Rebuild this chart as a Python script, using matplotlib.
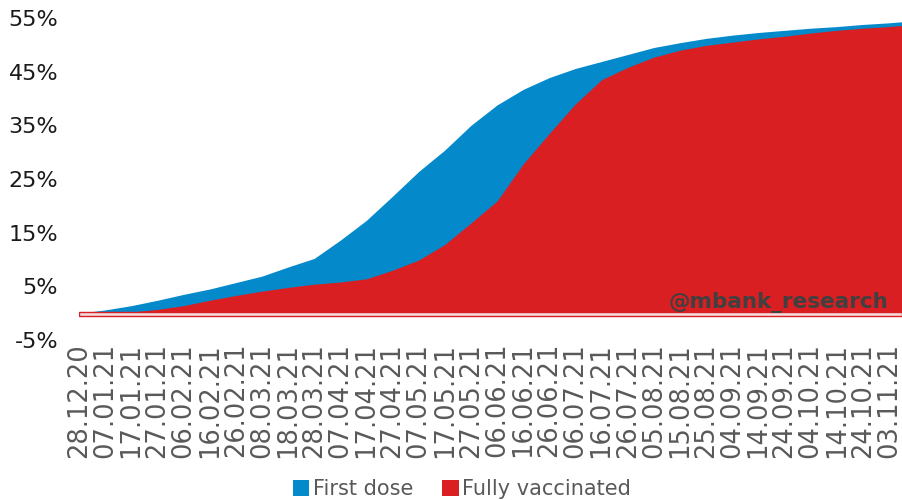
import matplotlib
matplotlib.use("Agg")
import matplotlib.pyplot as plt
import matplotlib.dates as mdates
from matplotlib.patches import Patch
import pandas as pd

# Share of population vaccinated (%), sampled every 10 days from 28.12.20, plus last day
dates = list(pd.date_range("2020-12-28", periods=32, freq="10D")) + [pd.Timestamp("2021-11-08")]
first_dose = [0.0, 0.6, 1.4, 2.4, 3.5, 4.5, 5.7, 6.9, 8.6, 10.2,
              13.6, 17.3, 21.8, 26.4, 30.4, 35.0, 38.8, 41.7, 43.9, 45.6,
              46.9, 48.2, 49.5, 50.4, 51.2, 51.8, 52.3, 52.7, 53.1, 53.4,
              53.8, 54.1, 54.3]
fully_vaccinated = [0.0, 0.0, 0.2, 0.7, 1.4, 2.4, 3.3, 4.1, 4.8, 5.4,
                    5.8, 6.4, 8.0, 9.9, 12.8, 16.8, 20.9, 27.8, 33.5, 39.0,
                    43.5, 45.8, 47.7, 49.0, 49.9, 50.5, 51.1, 51.6, 52.2, 52.7,
                    53.1, 53.4, 53.6]
tick_dates = pd.date_range("2020-12-28", "2021-11-03", freq="10D")
y_ticks = [-5, 5, 15, 25, 35, 45, 55]

BLUE = "#0489CB"
RED = "#D91F21"
GREY = "#595959"

fig = plt.figure(figsize=(9.02, 5.0), dpi=100)
ax = fig.add_axes([0.0876, 0.32, 0.9124, 0.644])

ax.fill_between(dates, 0, first_dose, color=BLUE, lw=0, zorder=2)
ax.fill_between(dates, 0, fully_vaccinated, color=RED, lw=0, zorder=3)

# thin outlined band along zero
ax.axhspan(-0.5, 0.3, facecolor="#f2dcdc", edgecolor=RED, lw=1.0, zorder=4)

ax.set_xlim(dates[0], dates[-1])
ax.set_ylim(-5, 55)
ax.set_yticks(y_ticks)
ax.set_yticklabels([f"{v}%" for v in y_ticks], fontsize=16, color="#1a1a1a")
ax.set_xticks(tick_dates)
ax.xaxis.set_major_formatter(mdates.DateFormatter("%d.%m.%y"))
plt.setp(ax.get_xticklabels(), rotation=90, fontsize=18.5, color=GREY)
ax.tick_params(length=0)
ax.tick_params(axis="y", pad=15)
ax.tick_params(axis="x", pad=2)
for s in ax.spines.values():
    s.set_visible(False)

ax.text(0.984, 0.085, "@mbank_research", transform=ax.transAxes, ha="right",
        va="bottom", fontsize=15.5, fontweight="bold", color="#404040", zorder=5)

handles = [Patch(facecolor=BLUE, label="First dose"),
           Patch(facecolor=RED, label="Fully vaccinated")]
fig.legend(handles=handles, loc="center", bbox_to_anchor=(0.512, 0.022), ncol=2,
           frameon=False, fontsize=15, labelcolor=GREY, handlelength=0.8,
           handleheight=0.8, handletextpad=0.15, columnspacing=1.4)

fig.savefig("out.png", dpi=100, facecolor="white")
